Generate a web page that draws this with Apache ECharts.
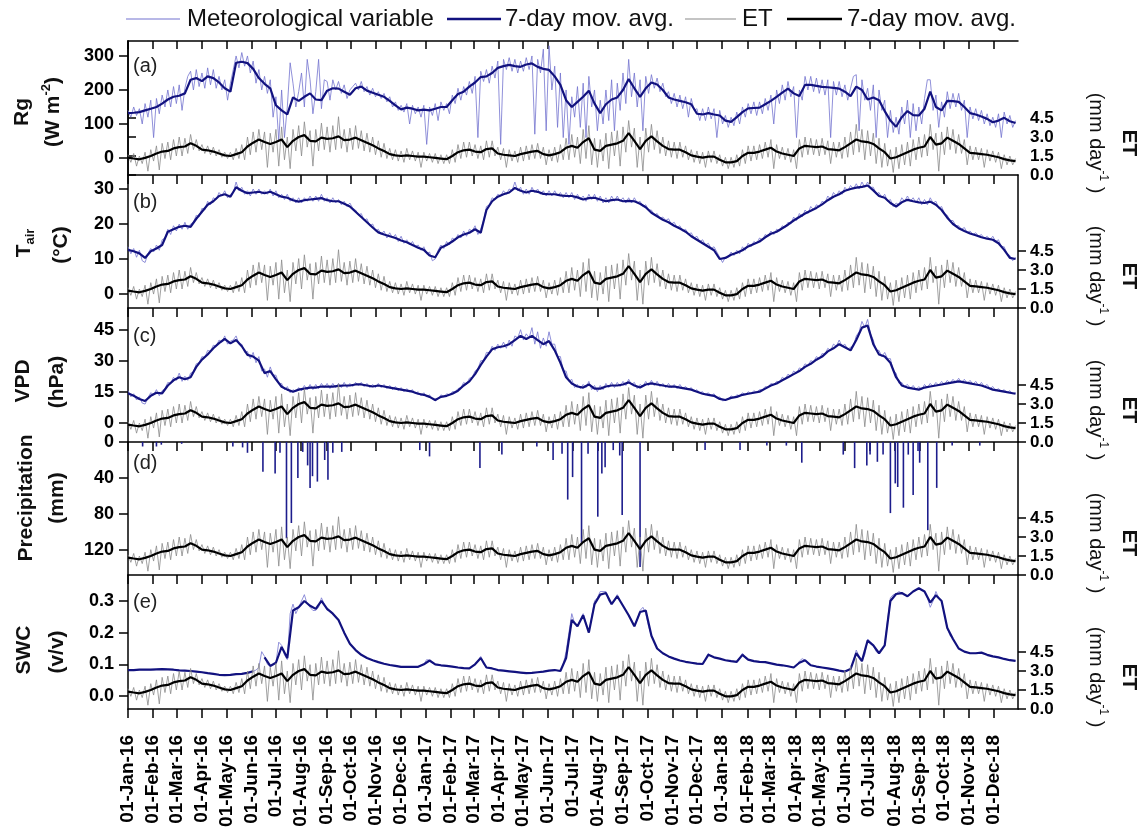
<!DOCTYPE html>
<html><head><meta charset="utf-8">
<script src="https://cdn.jsdelivr.net/npm/echarts@6/dist/echarts.min.js"></script>
<style>html,body{margin:0;padding:0;background:#fff}#c{width:1142px;height:834px}</style>
</head><body><div id="c"></div>
<script>
// ---------------- DATA ----------------
const tickLabels = ['01-Jan-16','01-Feb-16','01-Mar-16','01-Apr-16','01-May-16','01-Jun-16','01-Jul-16','01-Aug-16','01-Sep-16','01-Oct-16','01-Nov-16','01-Dec-16',
'01-Jan-17','01-Feb-17','01-Mar-17','01-Apr-17','01-May-17','01-Jun-17','01-Jul-17','01-Aug-17','01-Sep-17','01-Oct-17','01-Nov-17','01-Dec-17',
'01-Jan-18','01-Feb-18','01-Mar-18','01-Apr-18','01-May-18','01-Jun-18','01-Jul-18','01-Aug-18','01-Sep-18','01-Oct-18','01-Nov-18','01-Dec-18'];
const rgTicks = [0,100,200,300];
const tairTicks = [0,10,20,30];
const vpdTicks = [0,15,30,45];
const precTicks = [0,40,80,120];
const swcTicks = [0,0.1,0.2,0.3];
const etTicks = [0,1.5,3,4.5];

// 7-day moving averages, sampled weekly from 01-Jan-16
const rgAvg = [132,133,135,140,145,150,160,172,180,183,
190,230,235,226,240,235,222,205,195,280,
283,279,262,235,218,205,155,140,128,178,
168,180,190,172,170,198,205,204,195,186,
205,210,198,192,186,180,168,155,143,148,
145,140,142,140,145,150,150,170,188,195,
210,222,238,240,250,265,270,274,270,268,
275,278,268,262,259,240,215,170,150,165,
180,198,160,132,158,172,178,200,232,205,
180,205,222,216,200,178,172,168,164,158,
130,128,132,128,125,110,106,120,135,146,
147,148,158,168,180,192,204,190,182,215,
215,212,209,208,206,204,195,182,210,200,
172,178,170,138,110,92,120,138,126,125,
145,195,150,140,168,167,165,150,132,128,
122,115,105,110,118,108,103];
const tairAvg = [12.6,12.2,11.6,10.3,12.2,13,14,17.8,18.5,19.2,
19.5,19.2,21.5,23.5,25.5,26.5,28,28.5,27.8,30.5,
29.5,28.8,29,29.2,28.8,29.2,28.5,27.8,27.5,26.8,
26.4,26.8,27,27.2,27.4,26.8,26.5,26.5,25.8,25,
23.5,22,20.5,19,17.6,17,16.5,16,15.3,14.8,
14,13.2,12.6,11,10.5,13.2,14,15,16.2,17,
17.5,18.5,17.5,24,26.5,27.8,28.5,29,30.3,29.5,
29,29.5,29.2,28.6,28.5,28.5,28.2,28,28,27.6,
27,27.4,27.5,27,26.5,26.8,27,26.5,26.6,26.5,
25.8,24.8,23.2,22.2,21.2,20.5,19.5,18.7,17.8,16.5,
15.5,14.5,13.5,12.5,10,10.3,11.2,11.8,12.5,13.6,
14.3,15,16.2,17.2,17.8,18.8,19.8,21,22,23,
23.8,24.6,25.6,26.8,27.8,28.5,29.5,30,30.4,30.6,
31,29.6,28,27.5,26,25,26.2,26.9,26.5,26.2,
26,26.4,25.5,24,21.8,20,18.8,18,17.3,16.8,
16.2,15.8,15.5,14.5,12.6,10.3,10];
const vpdAvg = [14.2,13,11.5,10.5,13,14.5,14.2,18,20.5,22,
21,22,27,30.5,33,36,38.5,40.5,38.4,40,
37,32.8,32,30,24,25,21,17.4,16,15,
16,16.5,17,17,17.5,17.5,17.5,17.8,18,18,
18.5,18.5,18,17.5,18,17.5,17,16.5,16,15.5,
15,14,13.5,12.5,11,12.5,13,14,15.5,18,
20,23.5,28,32,35.5,36.5,37,38,40,42,
40.5,42,40,38,39.5,35,29,22,19,17.5,
17,18.5,16.5,16.5,17.5,18,18,18.5,19.5,18,
17,18.5,19,18.5,18,17.5,17.5,17,16.5,16,
15,14,13.5,13,11.5,11,12,12.5,13.5,14,
14.5,15,16.5,18,19,20.5,22,23.5,25,27,
28.5,30.5,32,34.5,36,38,36.5,35,40,46,
47,38,33,32,29,22,18,17,16.5,16,
17,17.5,18,18.5,19,19.5,20,19.5,19,18.5,
18,17,16,15.5,15,14.5,14];
const swcAvg = [0.082,0.082,0.083,0.083,0.083,0.084,0.085,0.084,0.083,0.081,
0.08,0.079,0.077,0.075,0.072,0.07,0.067,0.066,0.067,0.069,
0.07,0.073,0.078,null,0.122,0.095,0.105,0.155,0.12,0.27,
0.28,0.3,0.285,0.275,0.3,0.275,0.26,0.24,0.2,0.165,
0.145,0.13,0.12,0.113,0.107,0.102,0.098,0.095,0.092,0.092,
0.092,0.092,0.1,0.112,0.1,0.097,0.095,0.093,0.09,0.088,
0.087,0.1,0.12,0.09,0.087,0.082,0.08,0.078,0.076,0.074,
0.072,0.073,0.075,0.077,0.08,0.082,0.079,0.12,0.24,0.22,
0.255,0.2,0.29,0.32,0.325,0.29,0.315,0.285,0.255,0.22,
0.265,0.27,0.19,0.15,0.135,0.125,0.118,0.112,0.108,0.105,
0.102,0.101,0.13,0.122,0.118,0.113,0.11,0.108,0.13,0.115,
0.11,0.108,0.107,0.103,0.099,0.097,0.094,0.09,0.105,0.113,
0.097,0.093,0.09,0.087,0.084,0.08,0.077,0.085,0.135,0.11,
0.175,0.16,0.135,0.16,0.3,0.322,0.325,0.315,0.33,0.34,
0.33,0.295,0.318,0.3,0.215,0.18,0.15,0.14,0.135,0.135,
0.137,0.13,0.125,0.122,0.117,0.113,0.111];
const etAvg = [1.37,1.3,1.24,1.35,1.5,1.7,1.85,1.9,2.1,2.2,
2.25,2.5,2.3,2.0,1.95,1.85,1.7,1.55,1.5,1.65,
1.8,2.25,2.55,2.8,2.6,2.45,2.6,2.8,2.2,2.7,
3.0,3.15,2.7,2.65,2.95,2.85,2.9,3.05,2.75,2.8,
2.95,2.75,2.55,2.35,2.1,1.9,1.65,1.55,1.5,1.55,
1.5,1.45,1.45,1.4,1.35,1.3,1.25,1.5,1.8,1.95,
2.0,1.85,1.8,2.05,2.1,1.7,1.6,1.55,1.5,1.65,
1.75,1.85,1.9,1.65,1.55,1.65,1.8,2.15,2.3,2.15,
2.6,2.9,2.0,1.9,2.3,2.4,2.5,2.7,3.3,2.7,
2.05,2.7,3.05,2.65,2.3,2.05,2.0,2.0,1.8,1.55,
1.45,1.37,1.45,1.45,1.2,1.0,1.0,1.1,1.5,1.75,
1.75,1.85,2.0,2.15,1.85,1.7,1.6,1.5,2.1,2.3,
2.25,2.2,2.25,2.05,2.0,1.95,2.2,2.5,2.8,2.65,
2.6,2.45,2.1,1.8,1.3,1.4,1.6,1.8,2.0,2.15,
2.25,3.0,2.4,2.5,2.95,2.7,2.45,2.1,1.75,1.7,
1.65,1.6,1.5,1.4,1.25,1.15,1.1];

// "daily" thin series, sampled every 3.5 days from 01-Jan-16
const rgDaily = [140,120,150,125,145,100,160,120,170,60,175,130,185,150,200,150,210,160,215,140,
205,240,255,200,260,210,250,205,265,215,260,205,240,200,230,170,220,260,300,265,
310,270,300,250,285,220,260,200,240,190,230,120,180,50,200,60,150,280,220,150,
195,250,150,290,230,130,195,290,145,230,225,170,230,200,225,190,215,175,200,210,
220,200,225,195,210,185,205,180,195,175,190,165,180,150,165,140,155,135,160,100,
155,130,150,120,155,40,150,125,160,110,165,140,160,130,185,160,205,170,210,185,
225,190,240,60,255,225,260,220,270,235,285,40,290,260,295,255,290,250,285,255,
295,260,300,70,290,250,320,80,330,200,270,90,250,60,200,40,180,120,210,90,
220,60,240,150,200,80,170,100,200,110,230,80,220,140,250,160,290,180,250,150,
230,80,240,190,245,205,235,195,220,180,195,160,190,150,185,145,180,120,175,140,
145,110,145,110,150,115,145,60,140,100,125,90,120,95,135,100,150,120,160,130,
165,125,165,130,175,140,185,100,200,160,215,170,225,180,210,60,200,170,240,200,
240,195,235,190,230,185,230,60,225,185,225,180,215,170,205,240,245,80,230,170,
205,140,215,60,200,140,170,60,140,75,120,70,150,100,170,60,160,80,150,100,
175,230,230,140,185,90,165,120,195,145,190,150,190,140,170,60,150,115,145,110,
140,100,130,95,120,90,130,60,135,100,125,90,110];
const tairDaily = [13.5,11.5,13,10.5,12.5,9.5,9,11.5,13,12,14,12.5,15.5,16,18.5,17,19.5,18,20,18.5,
20.5,18.5,20,20.5,22.5,22,24.5,24,26.5,25.5,27.5,27,29,28,29.5,27.5,28.5,29,32,29.5,
30.5,28.5,29.5,28,30,28.5,30,28.5,29.5,28.5,30,28,29.5,27.5,28.5,27,28.5,26.5,27.5,26,
27.5,26,27.5,26.5,28,26.5,28,26.5,28.5,26.5,27.5,26,27.5,26,27,25.5,26.5,25,26,24.5,
24,22.5,23,21,21.5,19.5,20,18,18.5,17,18,16,17.5,16,17,15,16.5,14.5,15.5,14,
15,13.5,14,12.5,13.5,11.5,12,9.5,10,12.5,14,13,15,14,16,15.5,17,16,18,16.5,
18.5,18,19.5,17,18.5,21,25,25.5,27.5,27,28.5,28,29.5,28.5,30,29.5,32,29.5,30.5,28.5,
30,28.5,30.5,29,30,28.5,29.5,28,29.5,28,29.5,28,29,27.5,29,27.5,29,27,28.5,27,
28,26.5,28.5,27,28.5,26.5,28,26,27.5,26,28,26.5,28,26.5,27.5,26,27.5,26,27.5,26,
26.5,25,25.5,24,24,22.5,23,21.5,22,21,21.5,20,20.5,19,19.5,18,18.5,17,17.5,16,
16.5,15,15.5,14,14.5,13,13.5,12,10.5,9,10.5,10.5,12,11,12.5,11.5,13.5,12.5,14.5,13.5,
15,14.5,16,15.5,17,16.5,18,17,18.5,18,19.5,19,20.5,20,22,21,23,22,24,23,
25,24,25.5,25,26.5,26,28,27,29,28,29.5,28.5,30.5,29.5,31,30,31.5,30,32,30.5,
32,30.5,30.5,28.5,29,27.5,28.5,26.5,27,25,26,25.5,27.5,26.5,28,26.5,27.5,26,27.5,25.5,
27,25.5,27.5,26,26.5,24.5,25,23,22.5,21,21,19.5,19.5,18.5,19,17.5,18,17,17.5,16.5,
17,15.8,16.5,15.5,16.5,15,15.5,13.5,13.5,11.5,11,9.5,10.5];
const vpdDaily = [15.5,12.5,14,11,12.5,9.5,9,12,14.5,13.5,16,13,15.5,16.5,19.5,19,22,20.5,24,20,
22.5,20.5,24,24.5,28.5,29,32,31.5,35,34.5,37.5,37,40,39,42,38,39.5,40,42,38,
38,34,34.5,31,34,29,32,25,26,22,27,23,23,19,19,16,17.5,14.5,16,15,
17,15.5,18,16,18.5,16,18.5,16.5,19,17,19,16.5,19,17,19,17,19.5,17,19,17.5,
19.5,18,19.5,17.5,19,17,18.5,17,19,17,18.5,16.5,18,16,17.5,15.5,17,15,16.5,15,
16,14,15,13,14.5,12.5,13.5,11.5,10.5,11.5,13.5,12.5,14,13.5,15,15,16.5,17,19.5,18.5,
21.5,22,25,26,30,30,34,34,37,35,38,36,39,36,40,37,42,41,45,40,
43,41,46,38,44,36,41,37,44,38,38,32,32,25,25,20,21,17,18.5,16.5,
18.5,17,20,16,18,15,18,16,19,17,19.5,17,19.5,17.5,20,18,21,18.5,19.5,16.5,
18.5,17.5,20,18,20.5,18,20,17.5,19,17,19,17,18.5,16.5,18.5,16.5,17.5,16,17,15,
16,14.5,15,13.5,14.5,13,14,12,12.5,10.5,11,11.5,13,12,13.5,13,14.5,13.5,15,14,
15.5,14.5,16,16,17.5,17,19,18.5,20,19.5,22,21,23.5,22.5,25,24,26.5,26,28.5,27.5,
30,29.5,32,31,33.5,33,36,35,38,37,40,37,38,35.5,36.5,37,42,44,49,46,
50,43,40,35,35,32,34,31,31,25,24,19,19.5,17.5,18.5,16.5,18,16,17.5,16,
18.5,17,19,17.5,19.5,18,20,18.5,20.5,19,21,19.5,21.5,19.5,21,19,20.5,18.5,20,18,
19.5,17.5,18.5,16.5,17.5,15.5,16.5,15,16,14.5,15.5,14,14.5];
const swcDaily = [0.082,0.082,0.083,0.082,0.083,0.083,0.083,0.083,0.083,0.083,0.084,0.085,0.085,0.085,0.084,0.084,0.083,0.082,0.081,0.08,
0.08,0.079,0.079,0.078,0.077,0.076,0.075,0.073,0.072,0.071,0.07,0.068,0.067,0.066,0.066,0.066,0.067,0.068,0.069,0.07,
0.07,0.072,0.073,0.075,0.078,0.082,0.09,0.14,0.125,0.1,0.095,0.1,0.105,0.17,0.16,0.13,0.115,0.26,0.29,0.26,
0.28,0.3,0.32,0.29,0.28,0.27,0.27,0.28,0.31,0.29,0.27,0.27,0.26,0.25,0.24,0.22,0.2,0.18,0.165,0.155,
0.145,0.137,0.13,0.125,0.12,0.116,0.113,0.11,0.107,0.104,0.102,0.1,0.098,0.096,0.095,0.093,0.092,0.092,0.092,0.092,
0.092,0.092,0.092,0.096,0.1,0.115,0.112,0.105,0.1,0.098,0.097,0.096,0.095,0.094,0.093,0.092,0.09,0.089,0.088,0.087,
0.087,0.093,0.1,0.11,0.125,0.1,0.09,0.088,0.087,0.085,0.082,0.081,0.08,0.079,0.078,0.077,0.076,0.075,0.074,0.073,
0.072,0.072,0.073,0.074,0.075,0.076,0.077,0.078,0.08,0.081,0.082,0.08,0.079,0.1,0.14,0.2,0.26,0.23,0.22,0.24,
0.26,0.23,0.2,0.25,0.3,0.31,0.33,0.33,0.33,0.3,0.29,0.3,0.32,0.3,0.285,0.27,0.255,0.24,0.22,0.24,
0.27,0.28,0.26,0.22,0.19,0.17,0.15,0.14,0.135,0.13,0.125,0.121,0.118,0.115,0.112,0.11,0.108,0.107,0.105,0.104,
0.102,0.101,0.101,0.115,0.135,0.126,0.122,0.12,0.118,0.115,0.113,0.112,0.11,0.109,0.108,0.12,0.135,0.12,0.115,0.112,
0.11,0.109,0.108,0.108,0.107,0.105,0.103,0.101,0.099,0.098,0.097,0.096,0.094,0.092,0.09,0.096,0.11,0.118,0.113,0.1,
0.097,0.095,0.093,0.092,0.09,0.089,0.087,0.086,0.084,0.082,0.08,0.079,0.077,0.08,0.085,0.11,0.145,0.125,0.11,0.13,
0.18,0.17,0.16,0.14,0.135,0.145,0.16,0.24,0.31,0.32,0.322,0.33,0.325,0.32,0.315,0.32,0.33,0.335,0.34,0.335,
0.33,0.31,0.28,0.3,0.33,0.31,0.3,0.26,0.215,0.19,0.18,0.165,0.15,0.145,0.14,0.138,0.135,0.135,0.135,0.136,
0.137,0.134,0.13,0.128,0.125,0.124,0.122,0.12,0.117,0.115,0.113,0.112,0.111];
const etDaily = [1.6,1.0,1.7,0.7,1.5,0.9,1.8,0.3,2.0,1.1,2.3,0.4,2.5,1.3,2.6,1.2,2.8,1.5,3.0,1.5,
2.9,1.7,3.2,2.0,2.8,1.9,2.4,1.7,2.3,1.6,2.2,1.5,2.0,1.4,1.8,1.3,1.8,1.2,2.1,1.3,
2.4,1.2,3.0,1.6,3.4,1.8,3.6,2.0,3.4,0.6,3.3,1.8,3.6,0.7,3.8,1.2,3.0,0.5,3.6,1.9,
3.9,1.5,4.2,2.2,3.5,0.7,3.6,1.9,4.1,2.0,3.8,1.8,3.9,2.0,4.6,2.1,3.6,1.8,3.7,2.0,
3.9,2.1,3.5,1.9,3.3,1.8,3.0,1.6,2.7,1.4,2.5,1.3,2.1,1.2,2.0,1.1,1.9,1.0,2.1,1.2,
1.9,1.1,1.8,0.6,1.8,1.1,1.7,1.0,1.7,0.9,1.6,0.9,1.6,0.9,2.0,1.0,2.4,1.3,2.6,1.4,
2.6,1.5,2.4,1.3,2.3,1.2,2.7,1.4,2.7,1.5,2.2,1.2,2.1,0.6,2.0,1.1,1.9,1.0,2.2,1.1,
2.3,1.2,2.4,1.3,2.5,1.3,2.2,0.8,2.0,1.1,2.2,1.0,2.4,1.2,2.9,1.2,3.2,1.4,3.0,0.9,
3.6,1.3,3.9,0.8,2.9,0.6,2.8,1.1,3.3,0.5,3.4,1.5,3.5,0.7,3.8,1.8,4.3,2.2,3.7,0.6,
3.0,0.3,3.7,1.8,4.0,2.0,3.5,1.7,3.0,1.5,2.7,1.4,2.6,1.3,2.6,1.4,2.3,1.2,2.0,1.0,
1.9,0.9,1.8,0.6,1.9,1.0,1.9,0.9,1.6,0.7,1.4,0.5,1.4,0.6,1.6,0.7,2.0,0.9,2.3,1.1,
2.3,1.2,2.4,1.3,2.6,1.4,2.8,0.5,2.4,1.3,2.2,1.2,2.1,1.0,2.0,0.5,2.8,1.4,3.0,1.6,
2.9,1.6,2.8,1.5,2.9,1.6,2.7,0.9,2.6,1.4,2.6,1.3,3.0,1.4,3.4,1.6,4.0,1.8,3.6,1.2,
3.5,1.5,3.3,0.9,2.9,0.6,2.5,0.7,2.0,0.2,2.2,0.5,2.4,0.8,2.6,0.7,2.8,1.2,3.0,1.4,
3.2,1.5,4.0,2.0,3.3,0.3,3.4,1.6,3.8,2.0,3.6,1.7,3.2,1.7,2.8,0.8,2.3,1.2,2.2,1.2,
2.1,0.6,2.0,1.1,1.9,1.0,1.8,0.5,1.6,0.8,1.5,0.8,1.3];

// daily precipitation events (mm)
const precDates = ['2016-01-19','2016-02-05','2016-02-11','2016-03-07','2016-05-09','2016-05-21','2016-05-27','2016-06-15','2016-06-30','2016-07-06',
'2016-07-14','2016-07-20','2016-07-28','2016-08-03','2016-08-09','2016-08-12','2016-08-15','2016-08-21','2016-08-30','2016-09-03',
'2016-09-09','2016-09-20','2016-12-25','2017-01-06','2017-03-09','2017-04-05','2017-05-18','2017-06-07','2017-06-18','2017-06-25',
'2017-07-01','2017-07-12','2017-07-20','2017-08-01','2017-08-06','2017-08-10','2017-08-20','2017-08-28','2017-08-31','2017-09-22',
'2017-12-11','2018-01-23','2018-02-25','2018-03-21','2018-04-09','2018-05-30','2018-06-13','2018-06-28','2018-07-02','2018-07-11',
'2018-07-18','2018-07-27','2018-08-02','2018-08-05','2018-08-12','2018-08-18','2018-08-24','2018-08-30','2018-09-01','2018-09-11',
'2018-09-22','2018-10-11','2018-11-14'];
const precMm = [5,5,3,2,5,6,12,33,35,12,
107,90,40,11,26,51,38,44,20,42,
12,11,9,16,29,14,5,20,13,64,
39,112,13,83,35,28,9,15,81,139,
9,9,4,4,23,14,29,26,14,22,
14,79,46,50,73,14,59,10,23,98,
51,4,4];

// ---------------- BUILD ----------------
const FONT = '"Liberation Sans", Arial, Helvetica, sans-serif';
const START = Date.UTC(2016,0,1), DAY = 86400000;
const tickPos = tickLabels.map((s,i)=>(Date.UTC(2016+Math.floor(i/12), i%12, 1)-START)/DAY);
const labelAt = {}; tickPos.forEach((p,i)=>{labelAt[p]=tickLabels[i];});
const weekly = a => a.map((v,i)=>[i*7, v]);
const halfWeekly = a => a.map((v,i)=>[i*3.5, v]);
const dayOf = s => (Date.parse(s)-START)/DAY;

const L = 128, R = 124;
const tops = [41,175,308,442,575];
const H = [134,133,134,133,134];
const AX = {color:'#000', width:1.5};

const grid = tops.map((t,i)=>({left:L, right:R, top:t, height:H[i]}));

const xAxis = tops.map((t,i)=>({
  type:'value', gridIndex:i, min:0, max:1095, position:'bottom',
  axisLine:{show:true, onZero:false, lineStyle:AX},
  axisTick:{show:true, customValues:tickPos, length:9, lineStyle:AX},
  axisLabel:{show:i===4, customValues:tickPos, rotate:90, margin:26,
    formatter:v=>labelAt[Math.round(v)]||'', fontFamily:FONT, fontSize:19, fontWeight:'bold', color:'#000'},
  splitLine:{show:false}
}));
xAxis.push({type:'value', gridIndex:0, min:0, max:1095, position:'top',
  axisLine:{show:true, onZero:false, lineStyle:AX},
  axisTick:{show:true, inside:true, customValues:tickPos, length:8, lineStyle:AX},
  axisLabel:{show:false}, splitLine:{show:false}});

const leftCfg = [
  {min:-50, max:344, ticks:rgTicks, fmt:v=>String(v)},
  {min:-4, max:34, ticks:tairTicks, fmt:v=>String(v)},
  {min:-9.34, max:55.5, ticks:vpdTicks, fmt:v=>String(v)},
  {min:0, max:147.8, ticks:precTicks, fmt:v=>String(v), inverse:true},
  {min:-0.041, max:0.382, ticks:swcTicks, fmt:v=>v.toFixed(1)}
];
const yAxis = [];
leftCfg.forEach((c,i)=>{
  yAxis.push({type:'value', gridIndex:i, position:'left', min:c.min, max:c.max, inverse:!!c.inverse,
    axisLine:{show:true, lineStyle:AX},
    axisTick:{show:true, customValues:c.ticks, length:9, lineStyle:AX},
    axisLabel:{customValues:c.ticks, formatter:c.fmt, fontFamily:FONT, fontSize:18, fontWeight:'bold', color:'#000', margin:14},
    splitLine:{show:false}});
  yAxis.push({type:'value', gridIndex:i, position:'right', min:0, max:H[i]/19*1.5,
    axisLine:{show:true, lineStyle:AX},
    axisTick:{show:true, customValues:etTicks, length:8, lineStyle:AX},
    axisLabel:{customValues:etTicks, formatter:v=>v.toFixed(1), fontFamily:FONT, fontSize:17, fontWeight:'bold', color:'#000', margin:12},
    splitLine:{show:false}});
});

const THIN_MET = '#7373cf', AVG_MET = '#12127f', THIN_ET = '#8a8a8a', AVG_ET = '#000000';
const line = (name, data, xi, yi, color, w, z) => ({name, type:'line', xAxisIndex:xi, yAxisIndex:yi, data,
  showSymbol:false, symbol:'none', connectNulls:false, lineStyle:{color, width:w}, itemStyle:{color}, z, silent:true, animation:false});

const metDaily = [rgDaily, tairDaily, vpdDaily, null, swcDaily];
const metAvg = [rgAvg, tairAvg, vpdAvg, null, swcAvg];
const series = [];
for (let p=0; p<5; p++) {
  if (metDaily[p]) {
    series.push(line('Meteorological variable', halfWeekly(metDaily[p]), p, 2*p, THIN_MET, 0.8, 2));
    series.push(line('7-day mov. avg.', weekly(metAvg[p]), p, 2*p, AVG_MET, 2.2, 3));
  } else {
    series.push({name:'Precipitation', type:'bar', xAxisIndex:p, yAxisIndex:2*p,
      data:precDates.map((d,i)=>[dayOf(d), precMm[i]]), barWidth:1.6,
      itemStyle:{color:'#1d1d8c'}, z:3, silent:true, animation:false});
  }
  series.push(line('ET', halfWeekly(etDaily), p, 2*p+1, THIN_ET, 0.8, 4));
  series.push(line('ET 7-day mov. avg.', weekly(etAvg), p, 2*p+1, AVG_ET, 2.2, 5));
}

// ---------------- TEXT (titles, legend, panel letters) ----------------
const RICH = {
  b:{fontFamily:FONT, fontSize:21, fontWeight:'bold', fill:'#111', lineHeight:26},
  bs:{fontFamily:FONT, fontSize:13, fontWeight:'bold', fill:'#111', verticalAlign:'top', lineHeight:26},
  bsub:{fontFamily:FONT, fontSize:13, fontWeight:'bold', fill:'#111', verticalAlign:'bottom', lineHeight:24},
  n:{fontFamily:FONT, fontSize:20, fill:'#111', lineHeight:26},
  ns:{fontFamily:FONT, fontSize:12, fill:'#111', verticalAlign:'top', lineHeight:26}
};
const rtext = (x,y,text,rot) => ({type:'text', x, y, rotation:rot, silent:true, z:100,
  style:{text, rich:RICH, align:'center', verticalAlign:'middle', textAlign:'center', textVerticalAlign:'middle', fill:'#111'}});
const UP = Math.PI/2, DOWN = -Math.PI/2;
const graphic = [
  rtext(22,112,'{b|Rg}',UP), rtext(53,112,'{b|(W m}{bs|-2}{b|)}',UP),
  rtext(24,243,'{b|T}{bsub|air}',UP), rtext(61,245,'{b|(°C)}',UP),
  rtext(23,381,'{b|VPD}',UP), rtext(57,382,'{b|(hPa)}',UP),
  rtext(26,498,'{b|Precipitation}',UP), rtext(57,498,'{b|(mm)}',UP),
  rtext(24,650,'{b|SWC}',UP), rtext(57,652,'{b|(v/v)}',UP)
];
tops.forEach((t,i)=>{
  const bottom = t + H[i];
  graphic.push(rtext(1096, bottom-32, '{n|(mm day}{ns|-1}{n| )}', DOWN));
  graphic.push(rtext(1129, bottom-32, '{b|ET}', DOWN));
});
const letters = ['(a)','(b)','(c)','(d)','(e)'];
const letterY = [66,202,336,463,602];
letters.forEach((s,i)=>graphic.push({type:'text', x:133, y:letterY[i], silent:true, z:100,
  style:{text:s, font:'20px '+FONT, fill:'#222', verticalAlign:'middle', textVerticalAlign:'middle'}}));
const legendItems = [
  {x1:126, x2:180, color:THIN_MET, w:1.2, label:'Meteorological variable', tx:187},
  {x1:447, x2:501, color:AVG_MET, w:2.6, label:'7-day mov. avg.', tx:505},
  {x1:685, x2:736, color:THIN_ET, w:1.2, label:'ET', tx:742},
  {x1:787, x2:842, color:AVG_ET, w:2.6, label:'7-day mov. avg.', tx:847}
];
legendItems.forEach(it=>{
  graphic.push({type:'line', silent:true, shape:{x1:it.x1, y1:19, x2:it.x2, y2:19}, style:{stroke:it.color, lineWidth:it.w}});
  graphic.push({type:'text', x:it.tx, y:19, silent:true, style:{text:it.label, font:'24px '+FONT, fill:'#111', verticalAlign:'middle', textVerticalAlign:'middle'}});
});

const chart = echarts.init(document.getElementById('c'), null, {renderer:'canvas'});
chart.setOption({animation:false, backgroundColor:'#fff', grid, xAxis, yAxis, series, graphic});
</script></body></html>
